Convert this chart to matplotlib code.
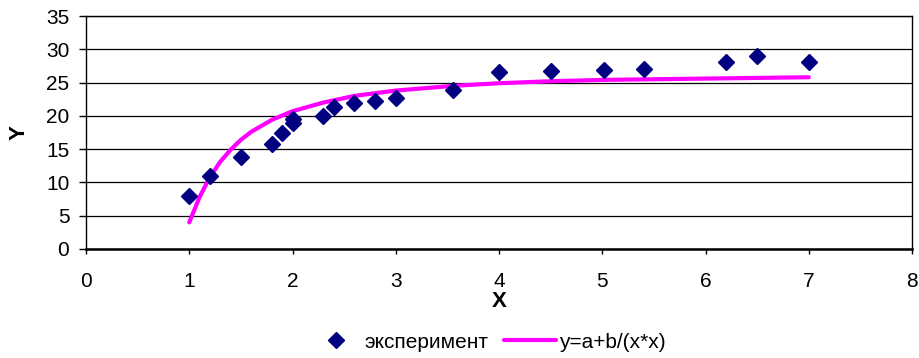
import matplotlib
matplotlib.use("Agg")
import matplotlib.pyplot as plt

plt.rcParams['font.family'] = ['Liberation Sans', 'DejaVu Sans']

# experimental data
exp_x = [1.0, 1.2, 1.5, 1.8, 1.9, 2.0, 2.0, 2.3, 2.4, 2.6, 2.8, 3.0, 3.55, 4.0, 4.5, 5.02, 5.4, 6.2, 6.5, 7.0]
exp_y = [8.0, 11.0, 13.8, 15.8, 17.5, 19.0, 19.6, 20.0, 21.3, 22.0, 22.2, 22.7, 23.9, 26.6, 26.7, 26.9, 27.0, 28.1, 29.0, 28.1]

# fitted curve y=a+b/(x*x)
fit_x = [1.0, 1.1, 1.2, 1.3, 1.4, 1.5, 1.6, 1.8, 2.0, 2.3, 2.6, 3.0, 3.55, 4.0, 4.5, 5.0, 5.5, 6.0, 6.5, 7.0]
fit_y = [4.0, 7.8, 10.8, 13.1, 14.9, 16.4, 17.6, 19.4, 20.7, 22.0, 23.0, 23.8, 24.5, 24.9, 25.2, 25.4, 25.5, 25.6, 25.7, 25.8]

x_ticks = [0, 1, 2, 3, 4, 5, 6, 7, 8]
y_ticks = [0, 5, 10, 15, 20, 25, 30, 35]

fig = plt.figure(figsize=(9.19, 3.58), dpi=100)
ax = fig.add_axes([86/919, 1-249/358, (912-86)/919, (249-16)/358])

ax.set_xlim(0, 8)
ax.set_ylim(0, 35)
ax.set_xticks(x_ticks)
ax.set_yticks(y_ticks)
ax.grid(axis='y', color='black', linewidth=0.9)
ax.set_axisbelow(True)
for s in ax.spines.values():
    s.set_linewidth(1.0)
    s.set_color('black')
ax.spines['bottom'].set_linewidth(1.8)
ax.tick_params(axis='y', direction='out', length=5, width=1, labelsize=15, colors='black', pad=7)
ax.tick_params(axis='x', direction='out', length=3.5, width=1, labelsize=15, colors='black', pad=13)

ax.plot(fit_x, fit_y, color='#FF00FF', linewidth=3.0, solid_capstyle='round',
        label='y=a+b/(x*x)', zorder=2)
ax.plot(exp_x, exp_y, linestyle='none', marker='D', markersize=8.5, color='#000080',
        label='эксперимент', zorder=3)

ax.set_xlabel('X', fontsize=16, fontweight='bold', labelpad=0)
ax.set_ylabel('Y', fontsize=16, fontweight='bold', labelpad=12)

h, l = ax.get_legend_handles_labels()
fig.legend([h[1], h[0]], [l[1], l[0]], loc='center', bbox_to_anchor=(0.5305, 1-342/358),
           ncol=2, frameon=False, fontsize=15, handlelength=2.5, columnspacing=0.7,
           handletextpad=0.15, borderaxespad=0, borderpad=0)

fig.savefig('out.png', dpi=100)
